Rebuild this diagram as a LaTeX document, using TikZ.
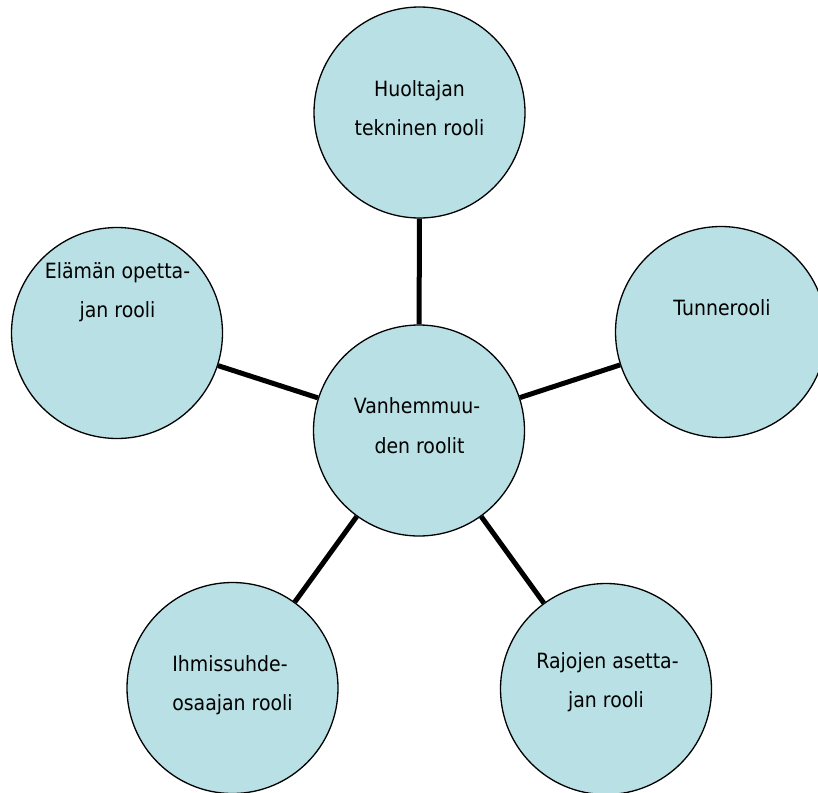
\documentclass[tikz,border=0pt]{standalone}
\usepackage{fontspec}
\setmainfont{DejaVu Sans}[FakeStretch=0.9]
\definecolor{roleblue}{RGB}{185,224,228}
\begin{document}
\begin{tikzpicture}[x=1pt,y=-1pt,
  role/.style={circle, draw=black, line width=1.3pt, fill=roleblue, minimum size=211pt, inner sep=0pt},
  txt/.style={anchor=base, inner sep=0pt, font=\fontsize{21}{25}\selectfont},
  link/.style={line width=5pt, draw=black}]
\useasboundingbox (0,0) rectangle (818,792);
\node[role] (top) at (419.5,112.5) {};
\node[role] (center) at (419,430.5) {};
\node[role] (left) at (117,333) {};
\node[role] (right) at (721,332) {};
\node[role] (bl) at (232.5,688) {};
\node[role] (br) at (606,689) {};
\draw[link] (center) -- (top);
\draw[link] (center) -- (left);
\draw[link] (center) -- (right);
\draw[link] (center) -- (bl);
\draw[link] (center) -- (br);
\node[txt] (t1) at (419.5,96) {Huoltajan};
\node[txt] (t2) at (419.5,135) {tekninen rooli};
\node[txt] (c1) at (417,413) {Vanhemmuu-};
\node[txt] (c2) at (419.5,453) {den roolit};
\node[txt] (l1) at (117.5,278) {Elämän opetta-};
\node[txt] (l2) at (117.5,317) {jan rooli};
\node[txt] (r1) at (722,315) {Tunnerooli};
\node[txt] (b1) at (230,671) {Ihmissuhde-};
\node[txt] (b2) at (232.5,710) {osaajan rooli};
\node[txt] (d1) at (607.5,668) {Rajojen asetta-};
\node[txt] (d2) at (606,707) {jan rooli};
\end{tikzpicture}
\end{document}
